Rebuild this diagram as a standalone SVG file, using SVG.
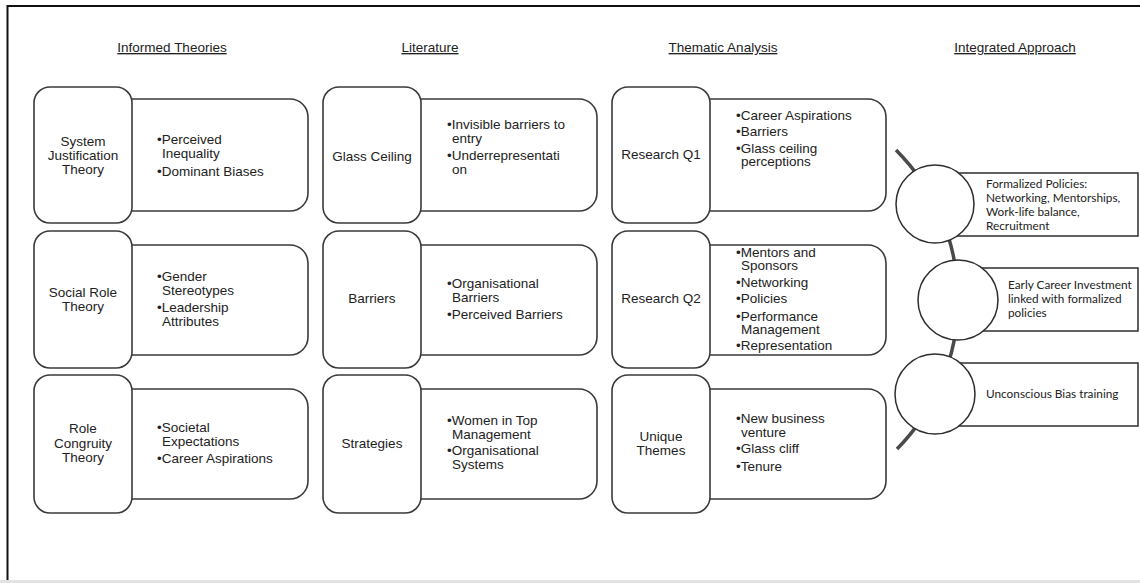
<svg xmlns="http://www.w3.org/2000/svg" width="1140" height="583" viewBox="0 0 1140 583">
<style>
text{font-family:"Liberation Sans",Arial,sans-serif;fill:#222;}
.hd{font-size:13.5px;text-decoration:underline;text-anchor:middle;}
.lb{font-size:13.5px;text-anchor:middle;}
.bl{font-size:13.5px;}
.box{fill:#fff;stroke:#3a3a3a;stroke-width:1.6;}
.circ{fill:#fff;stroke:#2e2e2e;stroke-width:1.5;}
.rb{fill:#fff;stroke:#2e2e2e;stroke-width:1.5;}
.ia{font-family:Lato,"Open Sans",sans-serif;font-size:11.8px;fill:#222;}
</style>
<rect x="0" y="0" width="1140" height="583" fill="#fff"/>
<rect x="0" y="580" width="1140" height="3" fill="#e2e2e2"/>
<line x1="7" y1="6" x2="1140" y2="6" stroke="#111" stroke-width="2.2"/>
<line x1="7.5" y1="5" x2="7.5" y2="580" stroke="#111" stroke-width="2"/>

<g id="headers">
<text class="hd" x="172" y="52">Informed Theories</text>
<text class="hd" x="430" y="52">Literature</text>
<text class="hd" x="723" y="52">Thematic Analysis</text>
<text class="hd" x="1015" y="52">Integrated Approach</text>
</g>

<g id="n-system-justification">
<rect class="box" x="100" y="99" width="208" height="112" rx="18"/>
<rect class="box" x="34" y="87" width="98" height="136" rx="16"/>
<text class="lb" x="83" y="146">System</text>
<text class="lb" x="83" y="160">Justification</text>
<text class="lb" x="83" y="174">Theory</text>
<text class="bl" x="157" y="144">•Perceived</text>
<text class="bl" x="162" y="158">Inequality</text>
<text class="bl" x="157" y="176">•Dominant Biases</text>
</g>

<g id="n-social-role">
<rect class="box" x="100" y="245" width="208" height="110" rx="18"/>
<rect class="box" x="34" y="231" width="98" height="137" rx="16"/>
<text class="lb" x="83" y="297">Social Role</text>
<text class="lb" x="83" y="311">Theory</text>
<text class="bl" x="157" y="281">•Gender</text>
<text class="bl" x="162" y="295">Stereotypes</text>
<text class="bl" x="157" y="312">•Leadership</text>
<text class="bl" x="162" y="326">Attributes</text>
</g>

<g id="n-role-congruity">
<rect class="box" x="100" y="389" width="208" height="110" rx="18"/>
<rect class="box" x="34" y="375" width="98" height="138" rx="16"/>
<text class="lb" x="83" y="433">Role</text>
<text class="lb" x="83" y="448">Congruity</text>
<text class="lb" x="83" y="462">Theory</text>
<text class="bl" x="157" y="432">•Societal</text>
<text class="bl" x="162" y="446">Expectations</text>
<text class="bl" x="157" y="463">•Career Aspirations</text>
</g>

<g id="n-glass-ceiling">
<rect class="box" x="389" y="99" width="208" height="112" rx="18"/>
<rect class="box" x="323" y="87" width="98" height="136" rx="16"/>
<text class="lb" x="372" y="161">Glass Ceiling</text>
<text class="bl" x="447" y="129">•Invisible barriers to</text>
<text class="bl" x="452" y="143">entry</text>
<text class="bl" x="447" y="160">•Underrepresentati</text>
<text class="bl" x="452" y="174">on</text>
</g>

<g id="n-barriers">
<rect class="box" x="389" y="245" width="208" height="110" rx="18"/>
<rect class="box" x="323" y="231" width="98" height="137" rx="16"/>
<text class="lb" x="372" y="303">Barriers</text>
<text class="bl" x="447" y="288">•Organisational</text>
<text class="bl" x="452" y="302">Barriers</text>
<text class="bl" x="447" y="319">•Perceived Barriers</text>
</g>

<g id="n-strategies">
<rect class="box" x="389" y="389" width="208" height="110" rx="18"/>
<rect class="box" x="323" y="375" width="98" height="138" rx="16"/>
<text class="lb" x="372" y="448">Strategies</text>
<text class="bl" x="447" y="425">•Women in Top</text>
<text class="bl" x="452" y="439">Management</text>
<text class="bl" x="447" y="455">•Organisational</text>
<text class="bl" x="452" y="469">Systems</text>
</g>

<g id="n-research-q1">
<rect class="box" x="678" y="99" width="208" height="112" rx="18"/>
<rect class="box" x="612" y="87" width="98" height="136" rx="16"/>
<text class="lb" x="661" y="159">Research Q1</text>
<text class="bl" x="736" y="120">•Career Aspirations</text>
<text class="bl" x="736" y="136">•Barriers</text>
<text class="bl" x="736" y="153">•Glass ceiling</text>
<text class="bl" x="741" y="166">perceptions</text>
</g>

<g id="n-research-q2">
<rect class="box" x="678" y="245" width="208" height="110" rx="18"/>
<rect class="box" x="612" y="231" width="98" height="137" rx="16"/>
<text class="lb" x="661" y="303">Research Q2</text>
<text class="bl" x="736" y="257">•Mentors and</text>
<text class="bl" x="741" y="270">Sponsors</text>
<text class="bl" x="736" y="287">•Networking</text>
<text class="bl" x="736" y="303">•Policies</text>
<text class="bl" x="736" y="321">•Performance</text>
<text class="bl" x="741" y="334">Management</text>
<text class="bl" x="736" y="350">•Representation</text>
</g>

<g id="n-unique-themes">
<rect class="box" x="678" y="389" width="208" height="110" rx="18"/>
<rect class="box" x="612" y="375" width="98" height="138" rx="16"/>
<text class="lb" x="661" y="441">Unique</text>
<text class="lb" x="661" y="455">Themes</text>
<text class="bl" x="736" y="423">•New business</text>
<text class="bl" x="741" y="437">venture</text>
<text class="bl" x="736" y="453">•Glass cliff</text>
<text class="bl" x="736" y="471">•Tenure</text>
</g>

<g id="connectors">
<path d="M896,150 A212.5,212.5 0 0 1 897,449" fill="none" stroke="#4a4a4a" stroke-width="3.5"/>
</g>

<g id="n-formalized-policies">
<rect class="rb" x="955" y="173" width="183" height="63"/>
<circle class="circ" cx="935" cy="204" r="39"/>
<text class="ia" x="986" y="188">Formalized Policies:</text>
<text class="ia" x="986" y="202">Networking, Mentorships,</text>
<text class="ia" x="986" y="216">Work-life balance,</text>
<text class="ia" x="986" y="230">Recruitment</text>
</g>

<g id="n-early-career">
<rect class="rb" x="978" y="268" width="160" height="63"/>
<circle class="circ" cx="958" cy="300" r="40"/>
<text class="ia" x="1008" y="289">Early Career Investment</text>
<text class="ia" x="1008" y="303">linked with formalized</text>
<text class="ia" x="1008" y="317">policies</text>
</g>

<g id="n-unconscious-bias">
<rect class="rb" x="955" y="363" width="183" height="63"/>
<circle class="circ" cx="935" cy="394" r="40"/>
<text class="ia" x="986" y="398">Unconscious Bias training</text>
</g>
</svg>
